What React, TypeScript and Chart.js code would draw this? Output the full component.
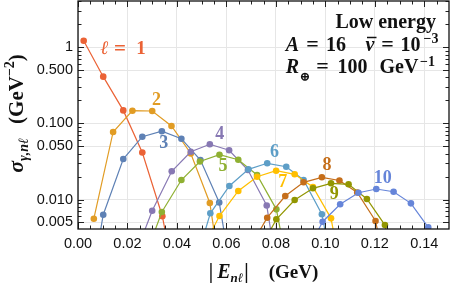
import React, { useEffect, useRef } from "react";
import { Chart, registerables } from "chart.js";
Chart.register(...registerables);

// ---- axis ticks ----
const xTickValues = [0, 0.02, 0.04, 0.06, 0.08, 0.1, 0.12, 0.14];
const xTickLabels = ["0.00", "0.02", "0.04", "0.06", "0.08", "0.10", "0.12", "0.14"];
const yTickValues = [0.005, 0.01, 0.05, 0.1, 0.5, 1];
const yTickLabels = ["0.005", "0.010", "0.050", "0.100", "0.500", "1"];

// ---- data: |E_nl| (GeV) and sigma (GeV^-2) for each l ----
const e1 = [0.0023, 0.0102, 0.0183, 0.026, 0.0341, 0.0419];
const s1 = [1.217, 0.41, 0.148, 0.0414, 0.00603, 0.0003];
const e2 = [0.0064, 0.0142, 0.022, 0.03, 0.0378, 0.0456, 0.0533, 0.061];
const s2 = [0.0056, 0.077, 0.1466, 0.1453, 0.0923, 0.0402, 0.009, 0.0002];
const e3 = [0.0023, 0.0102, 0.0183, 0.026, 0.0339, 0.0418, 0.0495, 0.0571, 0.0648];
const s3 = [0.0002, 0.00632, 0.034, 0.0668, 0.0788, 0.0629, 0.033, 0.00913, 0.0003];
const e4 = [0.022, 0.03, 0.0379, 0.0456, 0.0533, 0.0611, 0.0687, 0.0763, 0.084];
const s4 = [0.0015, 0.00713, 0.02346, 0.04242, 0.0531, 0.0443, 0.0244, 0.00834, 0.00023];
const e5 = [0.026, 0.0339, 0.0418, 0.0493, 0.0572, 0.0648, 0.0724, 0.0802, 0.0878];
const s5 = [0.0014, 0.00685, 0.01803, 0.03155, 0.03877, 0.03332, 0.02098, 0.00743, 0.0004];
const e6 = [0.0457, 0.0535, 0.0612, 0.0689, 0.0765, 0.0842, 0.0912, 0.0986, 0.106];
const s6 = [0.00093, 0.00659, 0.01504, 0.02492, 0.02988, 0.02696, 0.01804, 0.00639, 0.00037];
const e7 = [0.0494, 0.0572, 0.0648, 0.0724, 0.0801, 0.0876, 0.095, 0.1023, 0.1097];
const s7 = [0.002, 0.00607, 0.01293, 0.01993, 0.02388, 0.02143, 0.01459, 0.00566, 0.0003];
const e8 = [0.069, 0.0765, 0.0838, 0.0912, 0.0986, 0.1057, 0.1129, 0.1203, 0.1276];
const s8 = [0.0022, 0.00577, 0.01111, 0.01682, 0.01956, 0.01777, 0.01236, 0.00522, 0.0004];
const e9 = [0.0728, 0.0802, 0.0876, 0.095, 0.1023, 0.1094, 0.1168, 0.1241, 0.1313];
const s9 = [0.002, 0.0055, 0.00985, 0.01403, 0.01632, 0.01583, 0.01015, 0.00462, 0.0005];
const e10 = [0.0917, 0.0989, 0.106, 0.1134, 0.1206, 0.1276, 0.1346, 0.1416, 0.1486];
const s10 = [0.0018, 0.00511, 0.00865, 0.01228, 0.01373, 0.01266, 0.00891, 0.00431, 0.0015];

const seriesNames = ["ℓ = 1", "2", "3", "4", "5", "6", "7", "8", "9", "10"];
const seriesColors = [
  "#EB6235", "#E19C24", "#5E81B5", "#8778B3", "#8FB032",
  "#5D9EC7", "#FFBF00", "#C56E1A", "#929600", "#6685D9",
];
// label anchor positions (data coordinates)
const labelX = [0.0182, 0.0317, 0.0347, 0.0573, 0.0586, 0.0794, 0.0828, 0.1007, 0.1036, 0.1232];
const labelY = [0.933, 0.2025, 0.0547, 0.0714, 0.0275, 0.0414, 0.017, 0.0277, 0.0118, 0.019];

const energies = [e1, e2, e3, e4, e5, e6, e7, e8, e9, e10];
const sigmas = [s1, s2, s3, s4, s5, s6, s7, s8, s9, s10];

const SERIF = '"Liberation Serif", "DejaVu Serif", serif';
const fB = (s: number) => `bold ${s}px ${SERIF}`;
const fBI = (s: number) => `italic bold ${s}px ${SERIF}`;

type Piece = { t: string; f: string; dy?: number; gap?: number };

function runWidth(ctx: CanvasRenderingContext2D, pieces: Piece[]) {
  let w = 0;
  for (const p of pieces) {
    ctx.font = p.f;
    w += (p.gap || 0) + ctx.measureText(p.t).width;
  }
  return w;
}
function drawRun(ctx: CanvasRenderingContext2D, pieces: Piece[], x: number, y: number) {
  ctx.textAlign = "left";
  for (const p of pieces) {
    x += p.gap || 0;
    ctx.font = p.f;
    ctx.fillText(p.t, x, y + (p.dy || 0));
    x += ctx.measureText(p.t).width;
  }
}
function centered(ctx: CanvasRenderingContext2D, t: string, f: string, x: number, y: number) {
  ctx.font = f;
  ctx.textAlign = "center";
  ctx.fillText(t, x, y);
}

const decorPlugin = {
  id: "decor",
  afterDraw(chart: any) {
    const { ctx, chartArea: a } = chart;
    const xs = chart.scales.x;
    const ys = chart.scales.y;
    ctx.save();
    // ticks (inward, all four sides)
    ctx.strokeStyle = "#222";
    ctx.lineWidth = 1;
    ctx.beginPath();
    for (let k = 0; k <= 30; k++) {
      const v = k * 0.005;
      const px = Math.round(xs.getPixelForValue(v)) + 0.5;
      if (px < a.left || px > a.right) continue;
      const major = k % 4 === 0;
      const len = major ? 6 : 3.5;
      ctx.moveTo(px, a.bottom);
      ctx.lineTo(px, a.bottom - len);
      ctx.moveTo(px, a.top);
      ctx.lineTo(px, a.top + len);
    }
    for (let ex = -3; ex <= 0; ex++) {
      for (let m = 1; m <= 9; m++) {
        const v = m * Math.pow(10, ex);
        if (v < ys.min || v > ys.max) continue;
        const py = Math.round(ys.getPixelForValue(v)) + 0.5;
        const major = m === 1 || m === 5;
        const len = major ? 6 : 3.5;
        ctx.moveTo(a.left, py);
        ctx.lineTo(a.left + len, py);
        ctx.moveTo(a.right, py);
        ctx.lineTo(a.right - len, py);
      }
    }
    ctx.stroke();
    // frame
    ctx.strokeStyle = "#111";
    ctx.lineWidth = 1.3;
    ctx.strokeRect(a.left, a.top, a.right - a.left, a.bottom - a.top);

    // series labels
    ctx.textBaseline = "middle";
    for (let i = 0; i < seriesNames.length; i++) {
      const cx = xs.getPixelForValue(labelX[i]);
      const cy = ys.getPixelForValue(labelY[i]);
      ctx.fillStyle = seriesColors[i];
      if (i === 0) {
        centered(ctx, "ℓ", fBI(19), cx - 18.5, cy);
        centered(ctx, "=", fB(21), cx - 3, cy);
        centered(ctx, "1", fB(19), cx + 18, cy);
      } else {
        centered(ctx, seriesNames[i], fB(18), cx, cy);
      }
    }

    // annotation block (top right)
    ctx.textBaseline = "alphabetic";
    ctx.fillStyle = "#111";
    const R = a.right;
    centered(ctx, "Low energy", fB(20), R - 63.3, 27.5);
    const b2 = 50.7;
    centered(ctx, "A", fBI(20), R - 156.5, b2);
    centered(ctx, "=", fB(22), R - 136.5, b2);
    centered(ctx, "16", fB(20), R - 113, b2);
    centered(ctx, "v", fBI(20), R - 79, b2);
    ctx.strokeStyle = "#111";
    ctx.lineWidth = 1.5;
    ctx.beginPath();
    ctx.moveTo(R - 82, 37.5);
    ctx.lineTo(R - 72.5, 37.5);
    ctx.stroke();
    centered(ctx, "=", fB(22), R - 61.5, b2);
    centered(ctx, "10", fB(20), R - 38.5, b2);
    centered(ctx, "−3", fB(14), R - 18, 42.7);
    const b3 = 73.3;
    centered(ctx, "R", fBI(20), R - 156.5, b3);
    centered(ctx, "⊕", `bold 13px ${SERIF}`, R - 144, 81);
    centered(ctx, "=", fB(22), R - 126.5, b3);
    centered(ctx, "100", fB(20), R - 96.5, b3);
    centered(ctx, "GeV", fB(20), R - 50, b3);
    centered(ctx, "−1", fB(14), R - 21.5, 66);

    // x axis title
    const xt: Piece[] = [
      { t: "|", f: fB(20) },
      { t: "E", f: fBI(20), gap: 4 },
      { t: "nℓ", f: fBI(13), dy: 4 },
      { t: "|", f: fB(20), gap: 1 },
      { t: "(GeV)", f: fB(19), gap: 20 },
    ];
    const xw = runWidth(ctx, xt);
    drawRun(ctx, xt, (a.left + a.right) / 2 - xw / 2, 277.5);

    // y axis title (rotated)
    const yt: Piece[] = [
      { t: "σ", f: fBI(22) },
      { t: "γ,nℓ", f: fBI(14), dy: 5 },
      { t: "(GeV", f: fB(21), gap: 14 },
      { t: "−2", f: fB(14), dy: -9 },
      { t: ")", f: fB(21) },
    ];
    const yw = runWidth(ctx, yt);
    ctx.translate(23, (a.top + a.bottom) / 2 - 1.5);
    ctx.rotate(-Math.PI / 2);
    drawRun(ctx, yt, -yw / 2, 0);
    ctx.restore();
  },
};

export default function App() {
  const ref = useRef<HTMLCanvasElement | null>(null);
  useEffect(() => {
    document.body.style.margin = "0";
    const canvas = ref.current;
    if (!canvas) return;
    const datasets = energies.map((es, i) => ({
      label: seriesNames[i],
      data: es.map((e, j) => ({ x: e, y: sigmas[i][j] })),
      borderColor: seriesColors[i],
      backgroundColor: seriesColors[i],
      pointBackgroundColor: seriesColors[i],
      pointBorderWidth: 0,
      pointRadius: 3.3,
      borderWidth: 1.2,
      order: 10 - i,
      tension: 0,
    }));
    const tickFont = { family: '"Liberation Sans", Arial, sans-serif', size: 14.5 };
    const chart = new Chart(canvas, {
      type: "line",
      data: { datasets },
      plugins: [decorPlugin],
      options: {
        animation: false,
        responsive: false,
        devicePixelRatio: 1,
        layout: { autoPadding: false, padding: { top: 1, right: 4, left: 0, bottom: 0 } },
        plugins: { legend: { display: false }, tooltip: { enabled: false } },
        scales: {
          x: {
            type: "linear",
            min: 0,
            max: 0.15,
            afterBuildTicks: (sc: any) => {
              sc.ticks = xTickValues.map((v) => ({ value: v }));
            },
            afterFit: (sc: any) => {
              sc.height = 62;
              sc.paddingLeft = 0;
              sc.paddingRight = 0;
            },
            ticks: {
              autoSkip: false,
              maxRotation: 0,
              padding: 6,
              color: "#111",
              font: tickFont,
              callback: (_v: any, i: number) => xTickLabels[i],
            },
            grid: { color: "#e6e6e6", lineWidth: 1, drawTicks: false },
            border: { display: false },
          },
          y: {
            type: "logarithmic",
            min: 0.0041,
            max: 4.04,
            afterBuildTicks: (sc: any) => {
              sc.ticks = yTickValues.map((v) => ({ value: v }));
            },
            afterFit: (sc: any) => {
              sc.width = 78;
              sc.paddingTop = 0;
              sc.paddingBottom = 0;
            },
            ticks: {
              padding: 5,
              color: "#111",
              font: tickFont,
              callback: (_v: any, i: number) => yTickLabels[i],
            },
            grid: { color: "#e6e6e6", lineWidth: 1, drawTicks: false },
            border: { display: false },
          },
        },
      },
    } as any);
    return () => chart.destroy();
  }, []);
  return (
    <div style={{ width: 453, height: 291 }}>
      <canvas ref={ref} width={453} height={291} />
    </div>
  );
}
